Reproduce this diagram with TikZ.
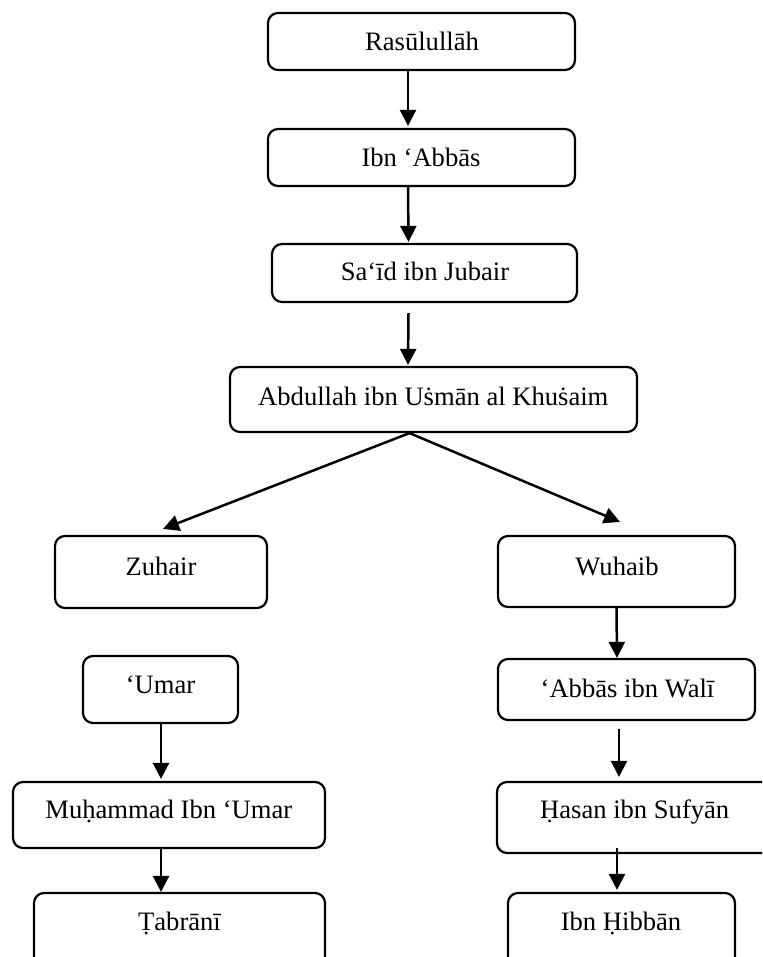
\documentclass[tikz,border=0pt]{standalone}
\usepackage{fontspec}
\setmainfont{Liberation Serif}
\usetikzlibrary{arrows.meta}
\begin{document}
\begin{tikzpicture}[x=1pt,y=-1pt,
  box/.style={draw, line width=2.2pt, rounded corners=10pt, inner sep=0pt},
  lbl/.style={anchor=base, inner sep=0pt, font=\fontsize{26.6}{30}\selectfont},
  arr/.style={line width=2.5pt, -{Triangle[length=16pt,width=16pt]}}]
\path[use as bounding box, clip] (0,0) rectangle (762,957);
% boxes
\node[box, minimum width=307pt, minimum height=57pt] (b1) at (421.5,41.5) {};
\node[box, minimum width=307pt, minimum height=57pt] (b2) at (421.5,157.5) {};
\node[box, minimum width=305pt, minimum height=58pt] (b3) at (424.5,273) {};
\node[box, minimum width=407pt, minimum height=65pt] (b4) at (433.5,399.5) {};
\node[box, minimum width=212pt, minimum height=72pt] (b5) at (161,572) {};
\node[box, minimum width=237pt, minimum height=71pt] (b6) at (616.5,571.5) {};
\node[box, minimum width=155pt, minimum height=67pt] (b7) at (160.5,689.5) {};
\node[box, minimum width=257pt, minimum height=61pt] (b8) at (626.5,689.5) {};
\node[box, minimum width=312pt, minimum height=66pt] (b9) at (169,815) {};
\node[box, minimum width=275pt, minimum height=71pt] (b10) at (634.5,817.5) {};
\node[box, minimum width=291pt, minimum height=97pt] (b11) at (179.5,941.5) {};
\node[box, minimum width=227pt, minimum height=97pt] (b12) at (621.5,941.5) {};
% labels
\node[lbl] (t1) at (422,51) {Rasūlullāh};
\node[lbl] (t2) at (421,167) {Ibn ‘Abbās};
\node[lbl] (t3) at (425,280) {Sa‘īd ibn Jubair};
\node[lbl] (t4) at (433.3,405) {Abdullah ibn Uṡmān al Khuṡaim};
\node[lbl] (t5) at (161,575) {Zuhair};
\node[lbl] (t6) at (617,575) {Wuhaib};
\node[lbl] (t7) at (160.5,693) {‘Umar};
\node[lbl] (t8) at (627.5,697) {‘Abbās ibn Walī};
\node[lbl] (t9) at (168.8,818) {Muḥammad Ibn ‘Umar};
\node[lbl] (t10) at (634.7,818) {Ḥasan ibn Sufyān};
\node[lbl] (t11) at (179.5,930) {Ṭabrānī};
\node[lbl] (t12) at (621,930) {Ibn Ḥibbān};
% connectors
\draw[arr] ([xshift=-13.5pt]b1.south) -- ([xshift=-13.5pt,yshift=2pt]b2.north);
\draw[arr] ([xshift=-13.5pt]b2.south) -- ([xshift=-16pt,yshift=1pt]b3.north);
\draw[arr] ([xshift=-16pt,yshift=-10pt]b3.south) -- ([xshift=-25.5pt,yshift=1pt]b4.north);
\draw[arr] ([xshift=-24pt]b4.south) -- ([xshift=2pt,yshift=6pt]b5.north);
\draw[arr] ([xshift=-24pt]b4.south) -- ([xshift=3.5pt,yshift=13pt]b6.north);
\draw[arr] (b6.south) -- ([xshift=-9.5pt]b8.north);
\draw[arr] ([xshift=-7.5pt,yshift=-8pt]b8.south) -- ([xshift=-15.5pt,yshift=4pt]b10.north);
\draw[arr] ([xshift=-17.5pt,yshift=6pt]b10.south) -- ([xshift=-4.5pt,yshift=2pt]b12.north);
\draw[arr] ([xshift=0.5pt]b7.south) -- ([xshift=-8pt,yshift=2pt]b9.north);
\draw[arr] ([xshift=-8pt]b9.south) -- ([xshift=-18.5pt]b11.north);
\end{tikzpicture}
\end{document}
